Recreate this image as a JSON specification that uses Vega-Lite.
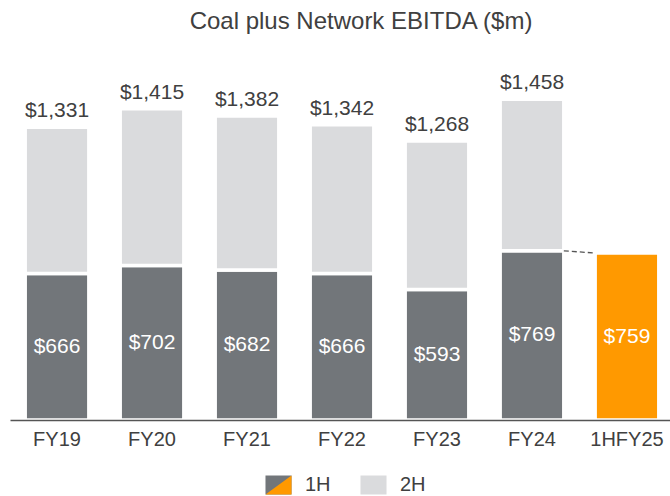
{
  "$schema": "https://vega.github.io/schema/vega-lite/v6.json",
  "autosize": {"type": "none"},
  "padding": {"left": 10, "top": 90, "right": 0, "bottom": 76},
  "width": 664,
  "height": 330,
  "background": "white",
  "config": {"view": {"stroke": null}, "font": "Liberation Sans"},
  "title": {
    "text": "Coal plus Network EBITDA ($m)",
    "fontSize": 24,
    "font": "Liberation Sans",
    "fontWeight": "normal",
    "color": "#404040",
    "anchor": "middle",
    "frame": "group",
    "baseline": "alphabetic",
    "offset": 19,
    "dx": 19
  },
  "datasets": {
    "segments": [
      {"year": "FY19", "series": "1H", "value": 666},
      {"year": "FY19", "series": "2H", "value": 665},
      {"year": "FY20", "series": "1H", "value": 702},
      {"year": "FY20", "series": "2H", "value": 713},
      {"year": "FY21", "series": "1H", "value": 682},
      {"year": "FY21", "series": "2H", "value": 700},
      {"year": "FY22", "series": "1H", "value": 666},
      {"year": "FY22", "series": "2H", "value": 676},
      {"year": "FY23", "series": "1H", "value": 593},
      {"year": "FY23", "series": "2H", "value": 675},
      {"year": "FY24", "series": "1H", "value": 769},
      {"year": "FY24", "series": "2H", "value": 689},
      {"year": "1HFY25", "series": "1H FY25", "value": 759}
    ],
    "years": [
      {"year": "FY19", "h1": 666, "total": 1331},
      {"year": "FY20", "h1": 702, "total": 1415},
      {"year": "FY21", "h1": 682, "total": 1382},
      {"year": "FY22", "h1": 666, "total": 1342},
      {"year": "FY23", "h1": 593, "total": 1268},
      {"year": "FY24", "h1": 769, "total": 1458},
      {"year": "1HFY25", "h1": 759, "total": null}
    ],
    "bridge": [{"from": "FY24", "to": "1HFY25", "start": 769, "end": 759}]
  },
  "layer": [
    {
      "data": {"name": "segments"},
      "mark": {"type": "bar", "stroke": "white", "strokeWidth": 3.5},
      "encoding": {
        "x": {
          "field": "year", "type": "nominal",
          "sort": ["FY19", "FY20", "FY21", "FY22", "FY23", "FY24", "1HFY25"],
          "scale": {"domain": ["FY19", "FY20", "FY21", "FY22", "FY23", "FY24", "1HFY25"], "paddingInner": 0.33, "paddingOuter": 0.16},
          "axis": {
            "title": null, "labelFontSize": 20, "labelColor": "#404040",
            "labelFont": "Liberation Sans", "ticks": false, "domainColor": "#555555",
            "domainWidth": 1.5, "labelPadding": 9, "labelAngle": 0, "zindex": 1
          }
        },
        "y": {"field": "value", "type": "quantitative", "stack": "zero", "scale": {"domain": [0, 1500]}, "axis": null},
        "color": {
          "field": "series", "type": "nominal",
          "scale": {"domain": ["1H", "2H", "1H FY25"], "range": ["#72767A", "#DADBDD", "#FF9900"]},
          "legend": {
            "orient": "none", "legendX": 258.5, "legendY": 385, "direction": "horizontal",
            "title": null, "values": ["1H", "2H"],
            "symbolType": "M-1.37,-1H1.37V1H-1.37Z", "symbolSize": 361,
            "symbolStrokeWidth": 0, "symbolOpacity": 1,
            "labelFontSize": 20, "labelFont": "Liberation Sans", "labelColor": "#404040",
            "labelOffset": 16.5, "columnPadding": 28
          }
        },
        "order": {"field": "series", "sort": "ascending"}
      }
    },
    {
      "data": {"name": "years"},
      "mark": {"type": "point", "filled": true, "color": "#FF9900", "opacity": 0, "strokeWidth": 0},
      "encoding": {
        "x": {"field": "year", "type": "nominal"},
        "y": {"field": "h1", "type": "quantitative", "scale": {"domain": [0, 1500]}, "axis": null},
        "shape": {
          "datum": "1H",
          "scale": {"domain": ["1H"], "range": ["M1.37,-1L1.37,1L-1.37,1Z"]},
          "legend": {
            "orient": "none", "legendX": 258.5, "legendY": 385, "direction": "horizontal",
            "title": null, "symbolSize": 361, "symbolOpacity": 1, "symbolStrokeWidth": 0,
            "symbolFillColor": "#FF9900",
            "labelFontSize": 20, "labelFont": "Liberation Sans", "labelColor": "#404040",
            "labelOpacity": 0, "labelOffset": 16.5
          }
        }
      }
    },
    {
      "data": {"name": "years"},
      "transform": [{"filter": "isValid(datum.total)"}],
      "mark": {"type": "text", "fontSize": 21, "color": "#404040", "baseline": "alphabetic", "dy": -10, "font": "Liberation Sans"},
      "encoding": {
        "x": {"field": "year", "type": "nominal"},
        "y": {"field": "total", "type": "quantitative", "scale": {"domain": [0, 1500]}, "axis": null},
        "text": {"field": "total", "type": "quantitative", "format": "$,.0f"}
      }
    },
    {
      "data": {"name": "years"},
      "mark": {"type": "text", "fontSize": 21, "color": "white", "baseline": "middle", "font": "Liberation Sans"},
      "encoding": {
        "x": {"field": "year", "type": "nominal"},
        "y": {"field": "h1", "type": "quantitative", "scale": {"domain": [0, 3000]}, "axis": null},
        "text": {"field": "h1", "type": "quantitative", "format": "$,.0f"}
      }
    },
    {
      "data": {"name": "bridge"},
      "mark": {"type": "rule", "strokeDash": [5, 3], "color": "#555555", "strokeWidth": 1.3},
      "encoding": {
        "x": {"field": "from", "type": "nominal", "bandPosition": 1},
        "x2": {"field": "to", "bandPosition": 0},
        "y": {"field": "start", "type": "quantitative", "scale": {"domain": [0, 1500]}, "axis": null},
        "y2": {"field": "end"}
      }
    }
  ],
  "resolve": {"scale": {"y": "independent"}}
}
